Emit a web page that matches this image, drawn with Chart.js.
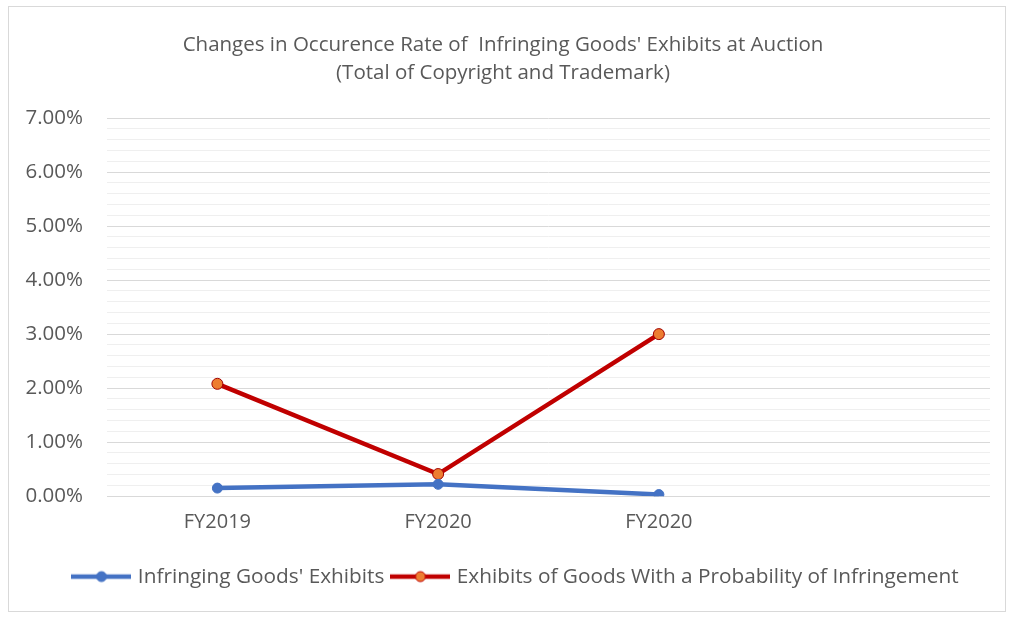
<!DOCTYPE html>
<html>
<head>
<meta charset="utf-8">
<script src="https://cdn.jsdelivr.net/npm/chart.js@4.4.0/dist/chart.umd.min.js"></script>
<style>
  body { margin: 0; background: #fff; }
  #wrap { position: relative; width: 1013px; height: 617px; }
  #frame { position: absolute; left: 8px; top: 6px; width: 996px; height: 604px; border: 1px solid #d9d9d9; pointer-events: none; }
</style>
</head>
<body>
<div id="wrap">
  <canvas id="grafica" width="1013" height="617"></canvas>
  <div id="frame"></div>
</div>
<script>
const categories = ['FY2019', 'FY2020', 'FY2020', ''];
const infringing = [0.15, 0.22, 0.03, null];
const probable = [2.08, 0.41, 3.0, null];
const titleLines = ["Changes in Occurence Rate of  Infringing Goods' Exhibits at Auction", '(Total of Copyright and Trademark)'];
const seriesNames = ["Infringing Goods' Exhibits", 'Exhibits of Goods With a Probability of Infringement'];

const FONT = "'Open Sans', sans-serif";
const TXT = '#595959';

// little line+marker picture for the legend
function legendIcon(line, fill, stroke) {
  const c = document.createElement('canvas');
  c.width = 60; c.height = 14;
  const g = c.getContext('2d');
  g.strokeStyle = line; g.lineWidth = 4.5;
  g.beginPath(); g.moveTo(0, 7); g.lineTo(60, 7); g.stroke();
  g.fillStyle = fill; g.strokeStyle = stroke; g.lineWidth = 1;
  g.beginPath(); g.arc(30, 7, 5, 0, Math.PI * 2); g.fill(); g.stroke();
  return c;
}
const icons = [legendIcon('#4472C4', '#4472C4', '#4472C4'), legendIcon('#C00000', '#ED7D31', '#C00000')];

// legend sits a bit right of centre in the original
const shiftLegend = {
  id: 'shiftLegend',
  afterLayout(chart) {
    chart.legend.left += 14;
    chart.legend.right += 14;
  },
};

const graph = document.getElementById('grafica');
const myChart = new Chart(graph, {
  type: 'line',
  data: {
    labels: categories,
    datasets: [
      {
        label: seriesNames[0],
        data: infringing,
        borderColor: '#4472C4',
        backgroundColor: '#4472C4',
        borderWidth: 4.5,
        pointRadius: 5,
        pointBackgroundColor: '#4472C4',
        pointBorderColor: '#4472C4',
        pointBorderWidth: 1,
      },
      {
        label: seriesNames[1],
        data: probable,
        borderColor: '#C00000',
        backgroundColor: '#ED7D31',
        borderWidth: 4.5,
        pointRadius: 5.5,
        pointBackgroundColor: '#ED7D31',
        pointBorderColor: '#A00000',
        pointBorderWidth: 1,
      },
    ],
  },
  plugins: [shiftLegend],
  options: {
    responsive: false,
    animation: false,
    layout: { padding: { left: 16, right: 23, top: 0, bottom: 20 } },
    plugins: {
      title: {
        display: true,
        text: titleLines,
        color: TXT,
        font: { family: FONT, size: 20.5, weight: 'normal', lineHeight: 1.366 },
        padding: { top: 31, bottom: 31 },
      },
      legend: {
        position: 'bottom',
        labels: {
          usePointStyle: true,
          pointStyleWidth: 52,
          color: TXT,
          font: { family: FONT, size: 20.8 },
          padding: 10,
          generateLabels: (chart) => chart.data.datasets.map((ds, i) => ({
            text: ds.label,
            fontColor: TXT,
            pointStyle: icons[i],
            datasetIndex: i,
            hidden: false,
            lineWidth: 0,
          })),
        },
      },
      tooltip: { enabled: false },
    },
    scales: {
      x: {
        offset: true,
        afterFit: (s) => { s.height += 16; },
        grid: { display: false },
        border: { display: false },
        ticks: { color: TXT, font: { family: FONT, size: 20 }, padding: 6, maxRotation: 0 },
      },
      y: {
        min: 0,
        max: 7,
        afterFit: (s) => { s.width = 91; },
        border: { display: false },
        grid: {
          drawTicks: false,
          color: (ctx) => (Math.abs(ctx.tick.value - Math.round(ctx.tick.value)) < 1e-6 ? '#d9d9d9' : '#efefef'),
          lineWidth: 1,
        },
        ticks: {
          stepSize: 0.2,
          autoSkip: false,
          color: TXT,
          padding: 24,
          font: { family: FONT, size: 20.5 },
          callback: (v) => (Math.abs(v - Math.round(v)) < 1e-6 ? Math.round(v).toFixed(2) + '%' : ''),
        },
      },
    },
  },
});
</script>
</body>
</html>
